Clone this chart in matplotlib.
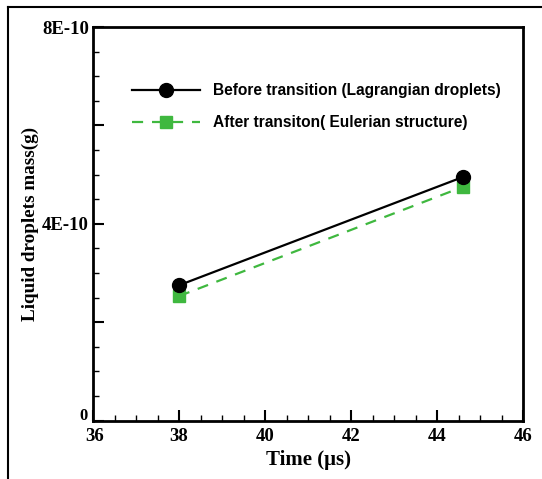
import matplotlib
matplotlib.use("Agg")
import matplotlib.pyplot as plt
import matplotlib.transforms as mtransforms
from matplotlib.ticker import MultipleLocator, FuncFormatter
from matplotlib.lines import Line2D

# data
time_us = [38.0, 44.6]
mass_before = [2.75e-10, 4.95e-10]
mass_after = [2.53e-10, 4.75e-10]
label_before = "Before transition (Lagrangian droplets)"
label_after = "After transiton( Eulerian structure)"
y_labelled = {0.0: "0", 4e-10: "4E-10", 8e-10: "8E-10"}

serif = ["Liberation Serif", "DejaVu Serif"]
sans = ["Liberation Sans", "DejaVu Sans"]

fig = plt.figure(figsize=(5.42, 4.79), dpi=100)
ax = fig.add_axes([0.1716, 0.122, 0.7934, 0.8216])

green = "#3fb83f"
ax.plot(time_us, mass_before, color="black", lw=1.6, marker="o", ms=10,
        label=label_before, zorder=3)
ax.plot(time_us, mass_after, color=green, lw=1.6, ls=(0, (5, 4)), marker="s",
        ms=8.5, label=label_after, zorder=2)

ax.set_xlim(36, 46)
ax.set_ylim(0, 8e-10)
ax.xaxis.set_major_locator(MultipleLocator(2))
ax.xaxis.set_minor_locator(MultipleLocator(0.5))
ax.yaxis.set_major_locator(MultipleLocator(2e-10))
ax.yaxis.set_minor_locator(MultipleLocator(0.5e-10))

def yfmt(v, pos):
    for k, s in y_labelled.items():
        if abs(v - k) < 1e-13:
            return s
    return ""

ax.yaxis.set_major_formatter(FuncFormatter(yfmt))
ax.tick_params(which="both", direction="in", top=False, right=False, width=1.5)
ax.tick_params(which="major", length=8)
ax.tick_params(which="minor", length=4, width=1)
ax.tick_params(axis="x", pad=5)
ax.tick_params(axis="y", pad=3)
for lab in ax.get_xticklabels() + ax.get_yticklabels():
    lab.set_fontfamily(serif)
    lab.set_fontweight("bold")
    lab.set_fontsize(13.5)

fig.canvas.draw()
# the "0" sits a little higher and smaller in the reference, clear of "36"
for lab in ax.get_yticklabels():
    if lab.get_text() == "0":
        lab.set_fontsize(12)
        lab.set_transform(lab.get_transform() +
                          mtransforms.ScaledTranslation(-1 / 72, 5 / 72, fig.dpi_scale_trans))
for lab in ax.get_xticklabels():
    if lab.get_text() == "36":
        lab.set_transform(lab.get_transform() +
                          mtransforms.ScaledTranslation(1.5 / 72, 0, fig.dpi_scale_trans))

for sp in ax.spines.values():
    sp.set_linewidth(2)

ax.set_xlabel("Time (\u03bcs)", fontfamily=serif, fontweight="bold", fontsize=15, labelpad=4)
ax.set_ylabel("Liquid droplets mass(g)", fontfamily=serif, fontweight="bold", fontsize=13.8, labelpad=2)

leg = ax.legend(loc="upper left", bbox_to_anchor=(0.058, 0.893), frameon=False,
                handlelength=4.4, handletextpad=0.8, labelspacing=1.1,
                prop={"family": sans, "weight": "bold", "size": 11.2})

# outer frame lines (left and top) seen in the reference
fig.add_artist(Line2D([0.014, 0.014], [0.0, 0.985], color="black", lw=1.5,
                      transform=fig.transFigure))
fig.add_artist(Line2D([0.014, 1.0], [0.985, 0.985], color="black", lw=1.5,
                      transform=fig.transFigure))

fig.savefig("out.png", dpi=100)
